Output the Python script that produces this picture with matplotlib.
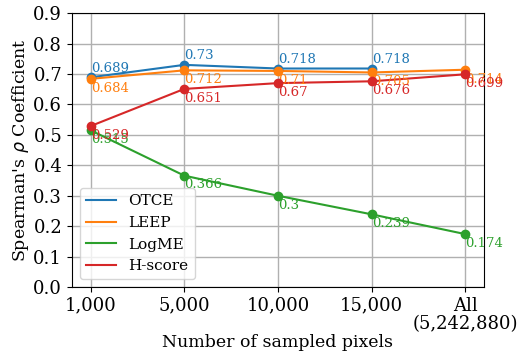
import matplotlib
matplotlib.use("Agg")
import matplotlib.pyplot as plt

plt.rcParams['font.family'] = ['DejaVu Serif']

categories = ["1,000", "5,000", "10,000", "15,000", "All\n(5,242,880)"]
otce = [0.689, 0.73, 0.718, 0.718]
leep = [0.684, 0.712, 0.71, 0.705, 0.714]
logme = [0.515, 0.366, 0.3, 0.239, 0.174]
hscore = [0.529, 0.651, 0.67, 0.676, 0.699]

series = [("OTCE", otce, "#1f77b4", "above"),
          ("LEEP", leep, "#ff7f0e", "below"),
          ("LogME", logme, "#2ca02c", "below"),
          ("H-score", hscore, "#d62728", "below")]

fig, ax = plt.subplots(figsize=(5.25, 3.54), dpi=100)
for name, vals, color, pos in series:
    xs = list(range(len(vals)))
    ax.plot(xs, vals, color=color, label=name, lw=1.5)
    ax.scatter(xs, vals, color=color, s=36, zorder=3)
    for x, v in zip(xs, vals):
        if pos == "above":
            ax.annotate(f"{v:g}", (x, v), xytext=(0, 2), textcoords="offset points",
                        ha="left", va="bottom", color=color, fontsize=9.5)
        else:
            ax.annotate(f"{v:g}", (x, v), xytext=(0, -2), textcoords="offset points",
                        ha="left", va="top", color=color, fontsize=9.5)

ax.set_xticks(range(len(categories)))
ax.set_xticklabels(categories, fontsize=13, linespacing=1.0)
ax.set_ylim(0, 0.9)
ax.set_yticks([i / 10 for i in range(10)])
ax.tick_params(axis='y', labelsize=13)
ax.grid(True, color="#b0b0b0", lw=1)
ax.set_axisbelow(True)
ax.set_xlabel("Number of sampled pixels", fontsize=12.5, labelpad=1)
ax.set_ylabel("Spearman's $\\rho$ Coefficient", fontsize=12.5, labelpad=2)
ax.legend(loc="lower left", fontsize=11)
fig.subplots_adjust(left=0.137, right=0.922, top=0.963, bottom=0.189)
fig.savefig("out.png", dpi=100)
